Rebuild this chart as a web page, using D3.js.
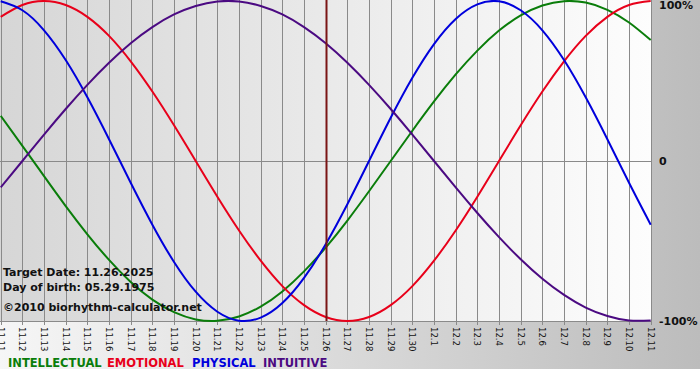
<!DOCTYPE html>
<html>
<head>
<meta charset="utf-8">
<script src="https://cdn.jsdelivr.net/npm/d3@7"></script>
<style>
  body { margin: 0; background: #fff; }
  svg { display: block; }
</style>
</head>
<body>
<div id="chart"></div>
<script>
// Day labels along the x axis
const days = ["11.11","11.12","11.13","11.14","11.15","11.16","11.17","11.18","11.19","11.20",
  "11.21","11.22","11.23","11.24","11.25","11.26","11.27","11.28","11.29","11.30",
  "12.1","12.2","12.3","12.4","12.5","12.6","12.7","12.8","12.9","12.10","12.11"];

// Cycle values per day (-1 .. 1)
const intellectual = [0.282,0.095,-0.095,-0.282,-0.458,-0.618,-0.756,-0.866,-0.945,-0.990,-0.999,-0.972,-0.910,
  -0.815,-0.690,-0.541,-0.372,-0.189,0.000,0.189,0.372,0.541,0.690,0.815,0.910,0.972,0.999,0.990,0.945,0.866,0.756];
const emotional = [0.901,0.975,1.000,0.975,0.901,0.782,0.623,0.434,0.223,0.000,-0.223,-0.434,-0.623,-0.782,
  -0.901,-0.975,-1.000,-0.975,-0.901,-0.782,-0.623,-0.434,-0.223,0.000,0.223,0.434,0.623,0.782,0.901,0.975,1.000];
const physical = [0.998,0.942,0.817,0.631,0.398,0.136,-0.136,-0.398,-0.631,-0.817,-0.942,-0.998,-0.979,-0.888,
  -0.731,-0.520,-0.270,0.000,0.270,0.520,0.731,0.888,0.979,0.998,0.942,0.817,0.631,0.398,0.136,-0.136,-0.398];
const intuitive = [-0.165,0.000,0.165,0.325,0.476,0.614,0.736,0.837,0.916,0.969,0.997,0.997,0.969,0.916,0.837,
  0.736,0.614,0.476,0.325,0.165,0.000,-0.165,-0.325,-0.476,-0.614,-0.736,-0.837,-0.916,-0.969,-0.997,-0.997];

const yTicks = [1, 0, -1];
const yTickLabels = ["100%", "0", "-100%"];
const targetDay = "11.26";
const infoLines = ["Target Date: 11.26.2025", "Day of birth: 05.29.1975", "\u00a92010 biorhythm-calculator.net"];

const series = [
  { name: "INTELLECTUAL", values: intellectual, color: "#0a7d0a" },
  { name: "EMOTIONAL", values: emotional, color: "#e8001a" },
  { name: "PHYSICAL", values: physical, color: "#0000dc" },
  { name: "INTUITIVE", values: intuitive, color: "#4b0a82" }
];

const width = 700, height = 380;
const plot = { left: 0, top: 0, right: 651, bottom: 321 };

const svg = d3.select("#chart").append("svg")
    .attr("width", width)
    .attr("height", height);

// gradients for the backdrop and the plot area
const defs = svg.append("defs");
const outerGrad = defs.append("linearGradient").attr("id", "outerGrad");
outerGrad.append("stop").attr("offset", "0%").attr("stop-color", "#f6f6f6");
outerGrad.append("stop").attr("offset", "100%").attr("stop-color", "#bcbcbc");
const plotGrad = defs.append("linearGradient").attr("id", "plotGrad");
plotGrad.append("stop").attr("offset", "0%").attr("stop-color", "#d6d6d6");
plotGrad.append("stop").attr("offset", "100%").attr("stop-color", "#fdfdfd");

svg.append("rect")
    .attr("width", width).attr("height", 369)
    .attr("fill", "url(#outerGrad)");

svg.append("rect")
    .attr("x", plot.left).attr("y", plot.top)
    .attr("width", plot.right - plot.left).attr("height", plot.bottom - plot.top)
    .attr("fill", "url(#plotGrad)");

const x = d3.scalePoint()
    .domain(days)
    .range([plot.left + 0.7, plot.right - 0.3]);

const y = d3.scaleLinear()
    .domain([-1, 1])
    .range([plot.bottom, plot.top + 1]);

// vertical grid lines, one per day
svg.append("g")
  .selectAll("line")
  .data(days)
  .join("line")
    .attr("x1", d => Math.round(x(d)) + 0.5)
    .attr("x2", d => Math.round(x(d)) + 0.5)
    .attr("y1", plot.top)
    .attr("y2", plot.bottom + 4)
    .attr("stroke", "#8a8a8a")
    .attr("stroke-width", 1);

// horizontal lines at 0 and at the bottom
svg.append("g")
  .selectAll("line")
  .data([0, -1])
  .join("line")
    .attr("x1", plot.left)
    .attr("x2", plot.right)
    .attr("y1", d => Math.round(y(d)) + 0.5)
    .attr("y2", d => Math.round(y(d)) + 0.5)
    .attr("stroke", "#8a8a8a")
    .attr("stroke-width", 1);

// x tick labels, rotated
svg.append("g")
  .selectAll("text")
  .data(days)
  .join("text")
    .attr("transform", d => `translate(${Math.round(x(d)) + 0.5},${plot.bottom + 6}) rotate(90)`)
    .attr("dy", "0.35em")
    .attr("text-anchor", "start")
    .attr("font-family", "DejaVu Sans Condensed, DejaVu Sans, sans-serif")
    .attr("font-size", "9.5px")
    .attr("fill", "#111")
    .text(d => d);

// y labels on the right
svg.append("g")
  .selectAll("text")
  .data(yTicks)
  .join("text")
    .attr("x", 659)
    .attr("y", d => y(d))
    .attr("dy", (d, i) => i === 0 ? "0.7em" : "0.35em")
    .attr("font-family", "DejaVu Sans, Verdana, sans-serif")
    .attr("font-weight", "bold")
    .attr("font-size", "11px")
    .attr("fill", "#111")
    .text((d, i) => yTickLabels[i]);

// biorhythm curves
const line = d3.line()
    .x((d, i) => x(days[i]))
    .y(d => y(d))
    .curve(d3.curveNatural);

svg.append("g")
  .selectAll("path")
  .data(series)
  .join("path")
    .attr("d", d => line(d.values))
    .attr("fill", "none")
    .attr("stroke", d => d.color)
    .attr("stroke-width", 2);

// target date marker
svg.append("line")
    .attr("x1", Math.round(x(targetDay)) + 0.5)
    .attr("x2", Math.round(x(targetDay)) + 0.5)
    .attr("y1", plot.top)
    .attr("y2", plot.bottom)
    .attr("stroke", "#7a1515")
    .attr("stroke-width", 2);

// info text bottom left
svg.append("g")
  .selectAll("text")
  .data(infoLines)
  .join("text")
    .attr("x", 3)
    .attr("y", (d, i) => [276, 291, 311][i])
    .attr("font-family", "DejaVu Sans, Verdana, sans-serif")
    .attr("font-weight", "bold")
    .attr("font-size", "11px")
    .attr("fill", "#111")
    .text(d => d);

// legend, one word per series
const legendX = [8, 107, 192, 263];
svg.append("g")
  .selectAll("text")
  .data(series)
  .join("text")
    .attr("x", (d, i) => legendX[i])
    .attr("y", 367)
    .attr("font-family", "DejaVu Sans, Verdana, sans-serif")
    .attr("font-weight", "bold")
    .attr("font-size", "11.5px")
    .attr("fill", d => d.color)
    .text(d => d.name);
</script>
</body>
</html>
